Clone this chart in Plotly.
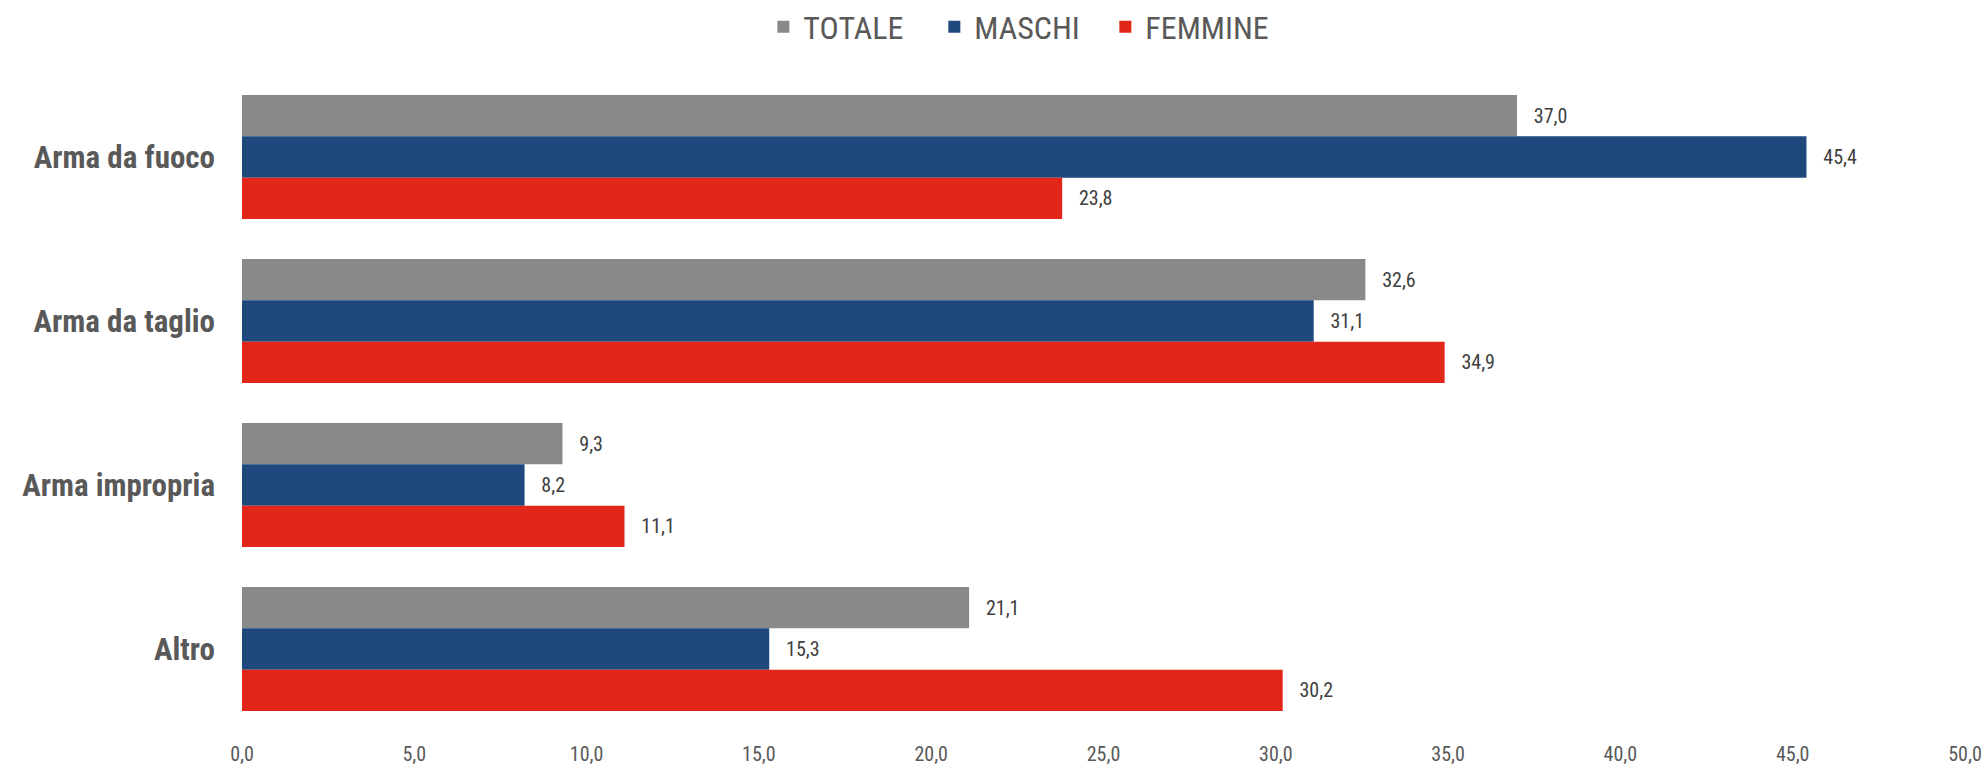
import plotly.graph_objects as go

categories = ["Arma da fuoco", "Arma da taglio", "Arma impropria", "Altro"]
series_names = ["TOTALE", "MASCHI", "FEMMINE"]
totale = [37.0, 32.6, 9.3, 21.1]
maschi = [45.4, 31.1, 8.2, 15.3]
femmine = [23.8, 34.9, 11.1, 30.2]
colors = ["#898989", "#1F497D", "#E3261A"]
x_ticks = [0, 5, 10, 15, 20, 25, 30, 35, 40, 45, 50]

FONT = "Liberation Sans Narrow, Arial Narrow, Roboto Condensed, Liberation Sans, Arial, sans-serif"

fig = go.Figure()
for name, vals, col in zip(series_names, [totale, maschi, femmine], colors):
    fig.add_trace(go.Bar(
        name=name, y=categories, x=vals, orientation="h",
        marker=dict(color=col, line=dict(width=0)),
        texttemplate="\u00a0\u00a0\u00a0%{x:.1f}", textposition="outside",
        textfont=dict(family=FONT, size=20, color="#404040"),
        cliponaxis=False,
    ))

fig.update_layout(
    width=1988, height=770,
    margin=dict(l=242, r=23, t=75, b=39),
    barmode="group", bargap=0.244, bargroupgap=0,
    separators=",.",
    plot_bgcolor="white", paper_bgcolor="white",
    font=dict(family=FONT, color="#595959"),
    showlegend=True,
    legend=dict(orientation="h", xref="container", x=0.513, xanchor="center",
                yref="container", y=0.965, yanchor="middle",
                font=dict(family=FONT, size=32, color="#595959"),
                itemwidth=30, traceorder="normal",
                entrywidth=126, entrywidthmode="pixels"),
    xaxis=dict(range=[0, 50], tickvals=x_ticks, tickformat=".1f",
               showgrid=False, zeroline=False, showline=False, ticks="",
               automargin=False,
               tickfont=dict(family=FONT, size=20, color="#595959"),
               ticklabelstandoff=9),
    yaxis=dict(autorange="reversed", showgrid=False, zeroline=False, showline=False,
               ticks="", ticklabelstandoff=26, automargin=False,
               tickfont=dict(family=FONT, size=31, color="#595959", weight="bold")),
)

fig.write_html("out.html")
